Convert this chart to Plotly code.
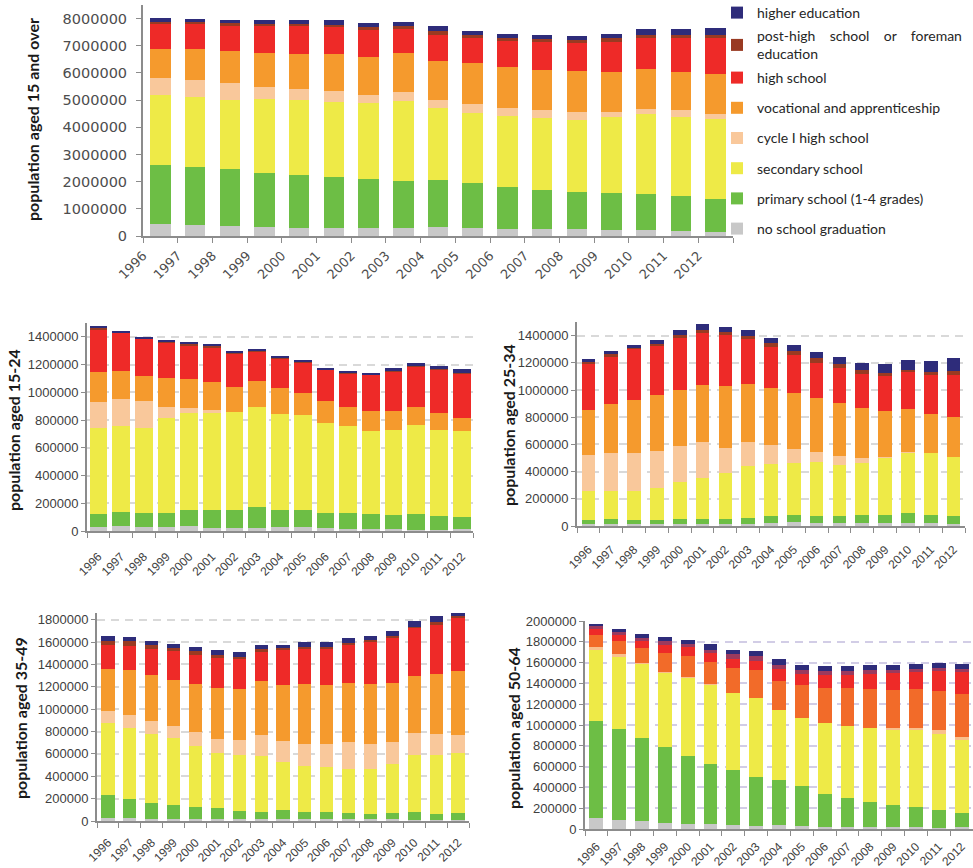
import plotly.graph_objects as go

years = [str(y) for y in range(1996, 2013)]

NB = "\u00a0" * 4
legend_labels = ["no school graduation", "primary school (1-4 grades)", "secondary school",
                 "cycle I high school", "vocational and apprenticeship", "high school",
                 "post-high" + NB + "school" + NB + "or" + NB + "foreman<br>education",
                 "higher education"]
legend_slot = ["legend2", "legend2", "legend2", "legend2", "legend2", "legend2", "legend", "legend"]

# values in thousands of persons
# population aged 15 and over
all_no_school = [440, 400, 370, 330, 290, 290, 290, 290, 330, 290, 260, 260, 260, 220, 220, 180, 150]
all_primary = [2170, 2140, 2090, 1990, 1950, 1880, 1810, 1730, 1730, 1660, 1540, 1430, 1360, 1360, 1320, 1290, 1210]
all_secondary = [2570, 2570, 2550, 2720, 2770, 2770, 2790, 2940, 2660, 2570, 2620, 2660, 2660, 2795, 2950, 2905, 2940]
all_cycle1 = [630, 630, 615, 440, 390, 390, 290, 330, 280, 330, 290, 280, 280, 185, 180, 255, 190]
all_vocational = [1065, 1135, 1175, 1250, 1290, 1360, 1400, 1440, 1430, 1510, 1500, 1470, 1510, 1470, 1470, 1400, 1470]
all_high = [935, 935, 930, 1000, 1040, 1010, 1010, 890, 970, 930, 970, 1040, 1030, 1100, 1140, 1250, 1320]
all_post = [60, 70, 100, 60, 60, 70, 90, 110, 140, 110, 110, 100, 110, 150, 110, 110, 110]
all_higher = [140, 100, 110, 150, 150, 170, 150, 140, 180, 140, 140, 150, 140, 150, 220, 220, 260]

# population aged 15-24
a1524_no_school = [29, 36, 29, 29, 36, 22, 22, 22, 29, 29, 22, 14, 14, 14, 7, 7, 14]
a1524_primary = [91, 98, 98, 98, 113, 127, 127, 148, 120, 120, 105, 113, 106, 99, 113, 98, 84]
a1524_secondary = [626, 626, 619, 690, 704, 704, 712, 727, 697, 690, 654, 633, 604, 618, 647, 626, 626]
a1524_cycle1 = [187, 194, 194, 80, 36, 22, 0, 0, 0, 0, 0, 0, 0, 0, 0, 0, 0]
a1524_vocational = [215, 201, 179, 208, 209, 201, 179, 187, 187, 158, 159, 137, 144, 137, 130, 122, 93]
a1524_high = [302, 274, 267, 254, 240, 245, 238, 208, 209, 216, 223, 237, 259, 280, 287, 310, 317]
a1524_post = [17, 5, 4, 5, 12, 14, 7, 10, 7, 7, 4, 7, 4, 7, 7, 7, 7]
a1524_higher = [7, 4, 10, 10, 7, 8, 7, 7, 14, 7, 5, 7, 10, 22, 22, 21, 29]

# population aged 25-34
a2534_no_school = [12, 12, 12, 12, 12, 12, 12, 12, 20, 27, 20, 20, 20, 20, 20, 20, 12]
a2534_primary = [29, 37, 29, 29, 37, 37, 37, 44, 51, 51, 51, 51, 58, 58, 73, 58, 59]
a2534_secondary = [213, 212, 220, 242, 271, 307, 344, 388, 388, 388, 402, 380, 388, 424, 446, 461, 439]
a2534_cycle1 = [270, 278, 278, 271, 270, 264, 183, 176, 139, 102, 73, 66, 36, 8, 7, 0, 0]
a2534_vocational = [330, 359, 388, 409, 410, 417, 453, 424, 417, 410, 395, 388, 366, 336, 315, 285, 292]
a2534_high = [344, 351, 375, 359, 380, 380, 373, 329, 300, 278, 257, 256, 249, 264, 278, 286, 308]
a2534_post = [7, 14, 5, 15, 22, 22, 22, 22, 29, 29, 36, 29, 29, 14, 7, 22, 29]
a2534_higher = [22, 22, 22, 29, 37, 44, 37, 44, 36, 44, 44, 51, 52, 66, 74, 80, 95]

# population aged 35-49
a3549_no_school = [27, 27, 18, 18, 18, 18, 18, 18, 18, 18, 18, 18, 18, 18, 9, 9, 9]
a3549_primary = [205, 169, 142, 125, 107, 98, 71, 62, 80, 62, 62, 53, 44, 53, 71, 53, 62]
a3549_secondary = [644, 633, 615, 597, 543, 493, 502, 499, 428, 410, 401, 392, 401, 437, 508, 526, 535]
a3549_cycle1 = [104, 116, 116, 107, 125, 122, 131, 187, 187, 196, 205, 241, 223, 196, 196, 187, 160]
a3549_vocational = [383, 401, 419, 418, 428, 454, 454, 482, 499, 535, 526, 526, 535, 526, 517, 544, 571]
a3549_high = [208, 216, 232, 253, 261, 276, 271, 267, 315, 324, 330, 341, 386, 410, 428, 437, 481]
a3549_post = [36, 45, 29, 27, 36, 21, 23, 27, 18, 15, 18, 24, 9, 18, 9, 26, 18]
a3549_higher = [51, 42, 42, 41, 42, 51, 45, 35, 32, 44, 44, 45, 42, 44, 53, 54, 26]

# population aged 50-64
a5064_no_school = [103, 84, 74, 55, 45, 45, 35, 26, 35, 26, 16, 16, 16, 16, 16, 6, 16]
a5064_primary = [937, 879, 802, 734, 657, 580, 532, 473, 435, 386, 319, 280, 242, 213, 193, 174, 135]
a5064_secondary = [677, 696, 715, 715, 754, 763, 744, 763, 677, 657, 686, 696, 715, 724, 744, 735, 706]
a5064_cycle1 = [29, 19, 10, 6, 6, 3, 0, 0, 0, 0, 0, 0, 0, 20, 20, 38, 29]
a5064_vocational = [116, 125, 135, 178, 197, 219, 241, 271, 280, 319, 338, 367, 376, 367, 376, 377, 415]
a5064_high = [57, 68, 67, 77, 87, 87, 87, 87, 116, 106, 126, 126, 145, 164, 165, 193, 213]
a5064_post = [29, 19, 30, 39, 29, 29, 39, 39, 38, 39, 38, 38, 39, 29, 29, 29, 29]
a5064_higher = [20, 29, 38, 38, 38, 49, 48, 48, 49, 48, 49, 49, 48, 48, 48, 49, 48]

colors_main = ["#C8C8C8", "#6DBE45", "#EEEA47", "#F9C89B", "#F59A2D", "#EE2A28", "#993A22", "#2E2C7A"]
colors_5064 = ["#C8C8C8", "#6DBE45", "#EEEA47", "#F9C08C", "#F26B29", "#EE2A28", "#9B3A5E", "#2E2C7A"]

panels = [
    dict(ax="", data=[all_no_school, all_primary, all_secondary, all_cycle1, all_vocational, all_high, all_post, all_higher],
         colors=colors_main, legend=True, numeric=True, gap=0.41),
    dict(ax="2", data=[a1524_no_school, a1524_primary, a1524_secondary, a1524_cycle1, a1524_vocational, a1524_high, a1524_post, a1524_higher],
         colors=colors_main, legend=False, numeric=False, gap=0.22),
    dict(ax="3", data=[a2534_no_school, a2534_primary, a2534_secondary, a2534_cycle1, a2534_vocational, a2534_high, a2534_post, a2534_higher],
         colors=colors_main, legend=False, numeric=False, gap=0.4),
    dict(ax="4", data=[a3549_no_school, a3549_primary, a3549_secondary, a3549_cycle1, a3549_vocational, a3549_high, a3549_post, a3549_higher],
         colors=colors_main, legend=False, numeric=False, gap=0.4),
    dict(ax="5", data=[a5064_no_school, a5064_primary, a5064_secondary, a5064_cycle1, a5064_vocational, a5064_high, a5064_post, a5064_higher],
         colors=colors_5064, legend=False, numeric=False, gap=0.39),
]

fig = go.Figure()
for p in panels:
    for k, vals in enumerate(p["data"]):
        if p["numeric"]:
            xs = [i + 0.5 for i in range(len(years))]
        else:
            xs = years
        fig.add_trace(go.Bar(
            x=xs, y=[v * 1000 for v in vals], name=legend_labels[k],
            marker=dict(color=p["colors"][k], line=dict(width=0)),
            xaxis="x" + p["ax"], yaxis="y" + p["ax"],
            showlegend=p["legend"], legendgroup=("g%d" % k) if p["legend"] else None,
            legend=legend_slot[k],
            legendrank=100 - k,
            width=1 - p["gap"],
        ))

W, H = 973, 868
def xd(a, b):
    return [a / W, min(b / W, 1.0)]
def yd(top, bottom):
    return [1 - bottom / H, 1 - top / H]

axis_grey = "#8C8C8C"
tick_col = "#404040"
legend_font = dict(family="Lato", size=14, color="#262626")

fig.update_layout(
    width=W, height=H, margin=dict(l=0, r=0, t=0, b=0, autoexpand=False),
    paper_bgcolor="white", plot_bgcolor="white",
    barmode="stack",
    font=dict(family="Liberation Sans, Arial", color=tick_col, size=12),
    legend=dict(x=717 / W, y=1 + 3 / H, xanchor="left", yanchor="top",
                traceorder="grouped", tracegroupgap=2, font=legend_font,
                itemwidth=30, bgcolor="rgba(0,0,0,0)"),
    legend2=dict(x=717 / W, y=1 - 62 / H, xanchor="left", yanchor="top",
                 traceorder="grouped", tracegroupgap=9, font=legend_font,
                 itemwidth=30, bgcolor="rgba(0,0,0,0)"),
    xaxis=dict(domain=xd(143, 733), anchor="y", range=[0, 17], automargin=False,
               tickmode="array", tickvals=list(range(18)), ticktext=years + [""],
               tickangle=-45, ticks="outside", ticklen=5, tickcolor=axis_grey,
               showline=True, linecolor=axis_grey, linewidth=2, showgrid=False, zeroline=False,
               tickfont=dict(family="DejaVu Sans", size=13, color="#4D4D4D")),
    yaxis=dict(domain=yd(5, 236), anchor="x", range=[0, 8500000], dtick=1000000, tickformat="d",
               ticks="outside", ticklen=5, tickcolor=axis_grey, automargin=False,
               showline=True, linecolor=axis_grey, linewidth=2, showgrid=False, zeroline=False,
               ticklabelstandoff=6,
               tickfont=dict(family="DejaVu Sans", size=14.5, color="#4D4D4D")),
)

lower = {
    "2": dict(x=(87, 473), y=(323, 531), rng=1500000, grid="#D9D9D9", standoff=12),
    "3": dict(x=(577, 965), y=(322, 526), rng=1500000, grid="#D9D9D9", standoff=10),
    "4": dict(x=(97, 469), y=(613, 821), rng=1860000, grid="#D9D9D9", standoff=8),
    "5": dict(x=(585, 973), y=(621, 829), rng=2000000, grid="#D2CDE6", standoff=4),
}
for ax, c in lower.items():
    fig.update_layout(**{
        "xaxis" + ax: dict(domain=xd(*c["x"]), anchor="y" + ax, type="category", automargin=False,
                           tickson="boundaries", ticks="outside", ticklen=5, tickcolor=axis_grey,
                           tickangle=-45, showline=True, linecolor=axis_grey, linewidth=2,
                           showgrid=False, zeroline=False, ticklabelstandoff=c["standoff"],
                           tickfont=dict(family="Liberation Sans", size=12, color=tick_col)),
        "yaxis" + ax: dict(domain=yd(*c["y"]), anchor="x" + ax, range=[0, c["rng"]], dtick=200000,
                           tickformat="d", ticks="outside", ticklen=4, tickcolor=axis_grey,
                           automargin=False,
                           showline=True, linecolor=axis_grey, linewidth=2, zeroline=False,
                           showgrid=True, gridcolor=c["grid"], griddash="8px,6px", gridwidth=1.5,
                           tickfont=dict(family="Liberation Sans", size=13, color=tick_col)),
    })

titles = [
    ("population aged 15 and over", 32, 120),
    ("population aged 15-24", 13, 430),
    ("population aged 25-34", 508, 425),
    ("population aged 35-49", 20, 718),
    ("population aged 50-64", 513, 728),
]
for text, xp, yp in titles:
    fig.add_annotation(text="<b>%s</b>" % text, x=xp / W, y=1 - yp / H, xref="paper", yref="paper",
                       textangle=-90, showarrow=False, xanchor="center", yanchor="middle",
                       font=dict(family="Lato", size=16, color="#1A1A1A"))

fig.write_html("out.html", config={"displayModeBar": False},
               post_script="document.body.style.margin='0';document.body.style.overflow='hidden';")
